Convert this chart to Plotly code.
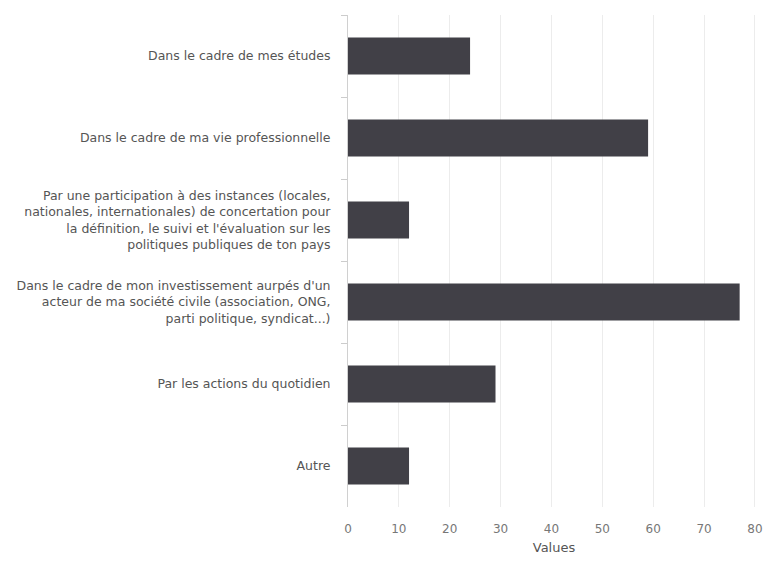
import plotly.graph_objects as go

# ---------------------------------------------------------------------------
# Data (top to bottom)
# ---------------------------------------------------------------------------
categories = [
    "Dans le cadre de mes études",
    "Dans le cadre de ma vie professionnelle",
    "Par une participation à des instances (locales,<br>nationales, internationales) de concertation pour<br>la définition, le suivi et l'évaluation sur les<br>politiques publiques de ton pays",
    "Dans le cadre de mon investissement aurpés d'un<br>acteur de ma société civile (association, ONG,<br>parti politique, syndicat...)",
    "Par les actions du quotidien",
    "Autre",
]
values = [24, 59, 12, 77, 29, 12]
x_ticks = [0, 10, 20, 30, 40, 50, 60, 70, 80]

fig = go.Figure(go.Bar(
    x=values,
    y=categories,
    orientation="h",
    marker=dict(color="#414047", line=dict(width=0)),
    showlegend=False,
))

# page body adds an 8px margin all round, so the figure is sized to fit inside it
fig.update_layout(
    width=755,
    height=547,
    margin=dict(l=340, r=3, t=7, b=48),
    plot_bgcolor="white",
    paper_bgcolor="white",
    bargap=0.55,
    font=dict(family="DejaVu Sans", size=12.5, color="#555555"),
)

fig.update_xaxes(
    range=[0, 81],
    tickvals=x_ticks,
    automargin=False,
    showgrid=True,
    gridcolor="#ececec",
    gridwidth=1,
    zeroline=False,
    showline=False,
    ticks="",
    ticklabelstandoff=13,
    ticklabeloverflow="allow",
    tickfont=dict(size=12, color="#777777"),
    title=dict(text="Values", font=dict(size=13, color="#555555"), standoff=10),
)

fig.update_yaxes(
    autorange="reversed",
    type="category",
    automargin=False,
    tickson="boundaries",
    ticks="outside",
    ticklen=6,
    tickcolor="#cccccc",
    ticklabelstandoff=14,
    showline=True,
    linecolor="#d0d0d0",
    linewidth=1,
    showgrid=False,
    tickfont=dict(size=12.5, color="#555555"),
)

fig.write_html("out.html")
